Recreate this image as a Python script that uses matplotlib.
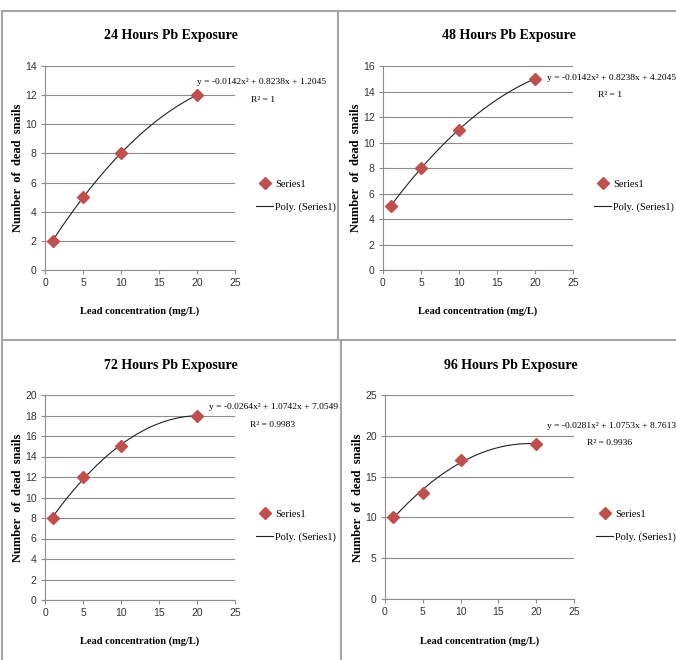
import numpy as np
import matplotlib
matplotlib.use("Agg")
import matplotlib.pyplot as plt
from matplotlib.lines import Line2D

# ---- data ----
conc = [1, 5, 10, 20]
dead_24 = [2, 5, 8, 12]
dead_48 = [5, 8, 11, 15]
dead_72 = [8, 12, 15, 18]
dead_96 = [10, 13, 17, 19]

coef_24 = [-0.0142, 0.8238, 1.2045]
coef_48 = [-0.0142, 0.8238, 4.2045]
coef_72 = [-0.0264, 1.0742, 7.0549]
coef_96 = [-0.0281, 1.0753, 8.7613]

titles = ["24 Hours Pb Exposure", "48 Hours Pb Exposure",
          "72 Hours Pb Exposure", "96 Hours Pb Exposure"]
eq_texts = ["y = -0.0142x\u00b2 + 0.8238x + 1.2045",
            "y = -0.0142x\u00b2 + 0.8238x + 4.2045",
            "y = -0.0264x\u00b2 + 1.0742x + 7.0549",
            "y = -0.0281x\u00b2 + 1.0753x + 8.7613"]
r2_texts = ["R\u00b2 = 1", "R\u00b2 = 1", "R\u00b2 = 0.9983", "R\u00b2 = 0.9936"]
ymaxes = [14, 16, 20, 25]
ysteps = [2, 2, 2, 5]

W, H = 676, 660
fig = plt.figure(figsize=(W / 100, H / 100), dpi=100)

SERIF = ["Liberation Serif", "DejaVu Serif"]
NARROW = ["Liberation Sans Narrow", "Liberation Sans", "DejaVu Sans"]

def fx(px):
    return px / W

def fy(py):
    return 1 - py / H

# panel frame lines
bc = "#a6a6a6"
for (x0, y0, x1, y1) in [(2, 11, 676, 11), (2, 11, 2, 660), (2, 340, 676, 340),
                         (338, 11, 338, 340), (341, 340, 341, 660)]:
    fig.add_artist(Line2D([fx(x0), fx(x1)], [fy(y0), fy(y1)], color=bc, lw=1.5,
                          transform=fig.transFigure))

# axes pixel boxes: left, right, top, bottom
boxes = [(45, 235, 66, 270), (383, 573, 66, 270),
         (45, 235, 395, 600), (385, 574, 395, 599)]
panel_x0 = [0, 338, 0, 340]
panel_y0 = [0, 0, 330, 330]
# equation right edge / y, R2 centre x / y
eq_pos = [(326, 82, 263, 100), (676, 78, 610, 95),
          (338, 407, 273, 425), (676, 426, 610, 443)]

series = [dead_24, dead_48, dead_72, dead_96]
coefs = [coef_24, coef_48, coef_72, coef_96]

for i in range(4):
    l, r, t, b = boxes[i]
    ax = fig.add_axes([fx(l), fy(b), fx(r) - fx(l), (b - t) / H])
    xs = np.linspace(conc[0], conc[-1], 200)
    ax.plot(xs, np.polyval(coefs[i], xs), color="#222222", lw=0.8, zorder=3,
            label="Poly. (Series1)")
    ax.plot(conc, series[i], linestyle="none", marker="D", markersize=6,
            color="#C0504D", zorder=4, label="Series1")
    ax.set_xlim(0, 25)
    ax.set_ylim(0, ymaxes[i])
    ax.set_xticks(np.arange(0, 26, 5))
    ax.set_yticks(np.arange(0, ymaxes[i] + 0.1, ysteps[i]))
    ax.yaxis.grid(True, color="#8c8c8c", lw=0.8)
    ax.set_axisbelow(True)
    for s in ["top", "right"]:
        ax.spines[s].set_visible(False)
    for s in ["left", "bottom"]:
        ax.spines[s].set_color("#8c8c8c")
        ax.spines[s].set_linewidth(0.8)
    ax.tick_params(direction="out", length=3, width=0.8, color="#8c8c8c",
                   labelsize=7.5, pad=3)
    for lab in ax.get_xticklabels() + ax.get_yticklabels():
        lab.set_family(NARROW)
        lab.set_color("#333333")
    px0 = panel_x0[i]
    py0 = panel_y0[i]
    fig.text(fx(px0 + 140), fy(py0 + 311), "Lead concentration (mg/L)",
             family=SERIF, fontweight="bold", fontsize=7.5,
             ha="center", va="center")
    fig.text(fx(px0 + 18), fy(py0 + 168), "Number  of  dead  snails",
             family=SERIF, fontweight="bold", fontsize=9, rotation=90,
             ha="center", va="center")
    fig.text(fx(px0 + 171), fy(py0 + 36), titles[i], family=SERIF,
             fontweight="bold", fontsize=10, ha="center", va="center")
    ex, ey, rx, ry = eq_pos[i]
    fig.text(fx(ex), fy(ey), eq_texts[i], family=SERIF, fontsize=6.8,
             ha="right", va="center")
    fig.text(fx(rx), fy(ry), r2_texts[i], family=SERIF, fontsize=6.8,
             ha="center", va="center")
    h, lb = ax.get_legend_handles_labels()
    lx = (px0 + 252 - l) / (r - l)
    ly = (b - (py0 + 196)) / (b - t)
    leg = ax.legend([h[1], h[0]], [lb[1], lb[0]], loc="center left",
                    bbox_to_anchor=(lx, ly),
                    frameon=False, prop={"family": SERIF, "size": 7.5},
                    handlelength=1.6, handletextpad=0.2, labelspacing=1.3,
                    borderaxespad=0)

fig.savefig("out.png", dpi=100)
